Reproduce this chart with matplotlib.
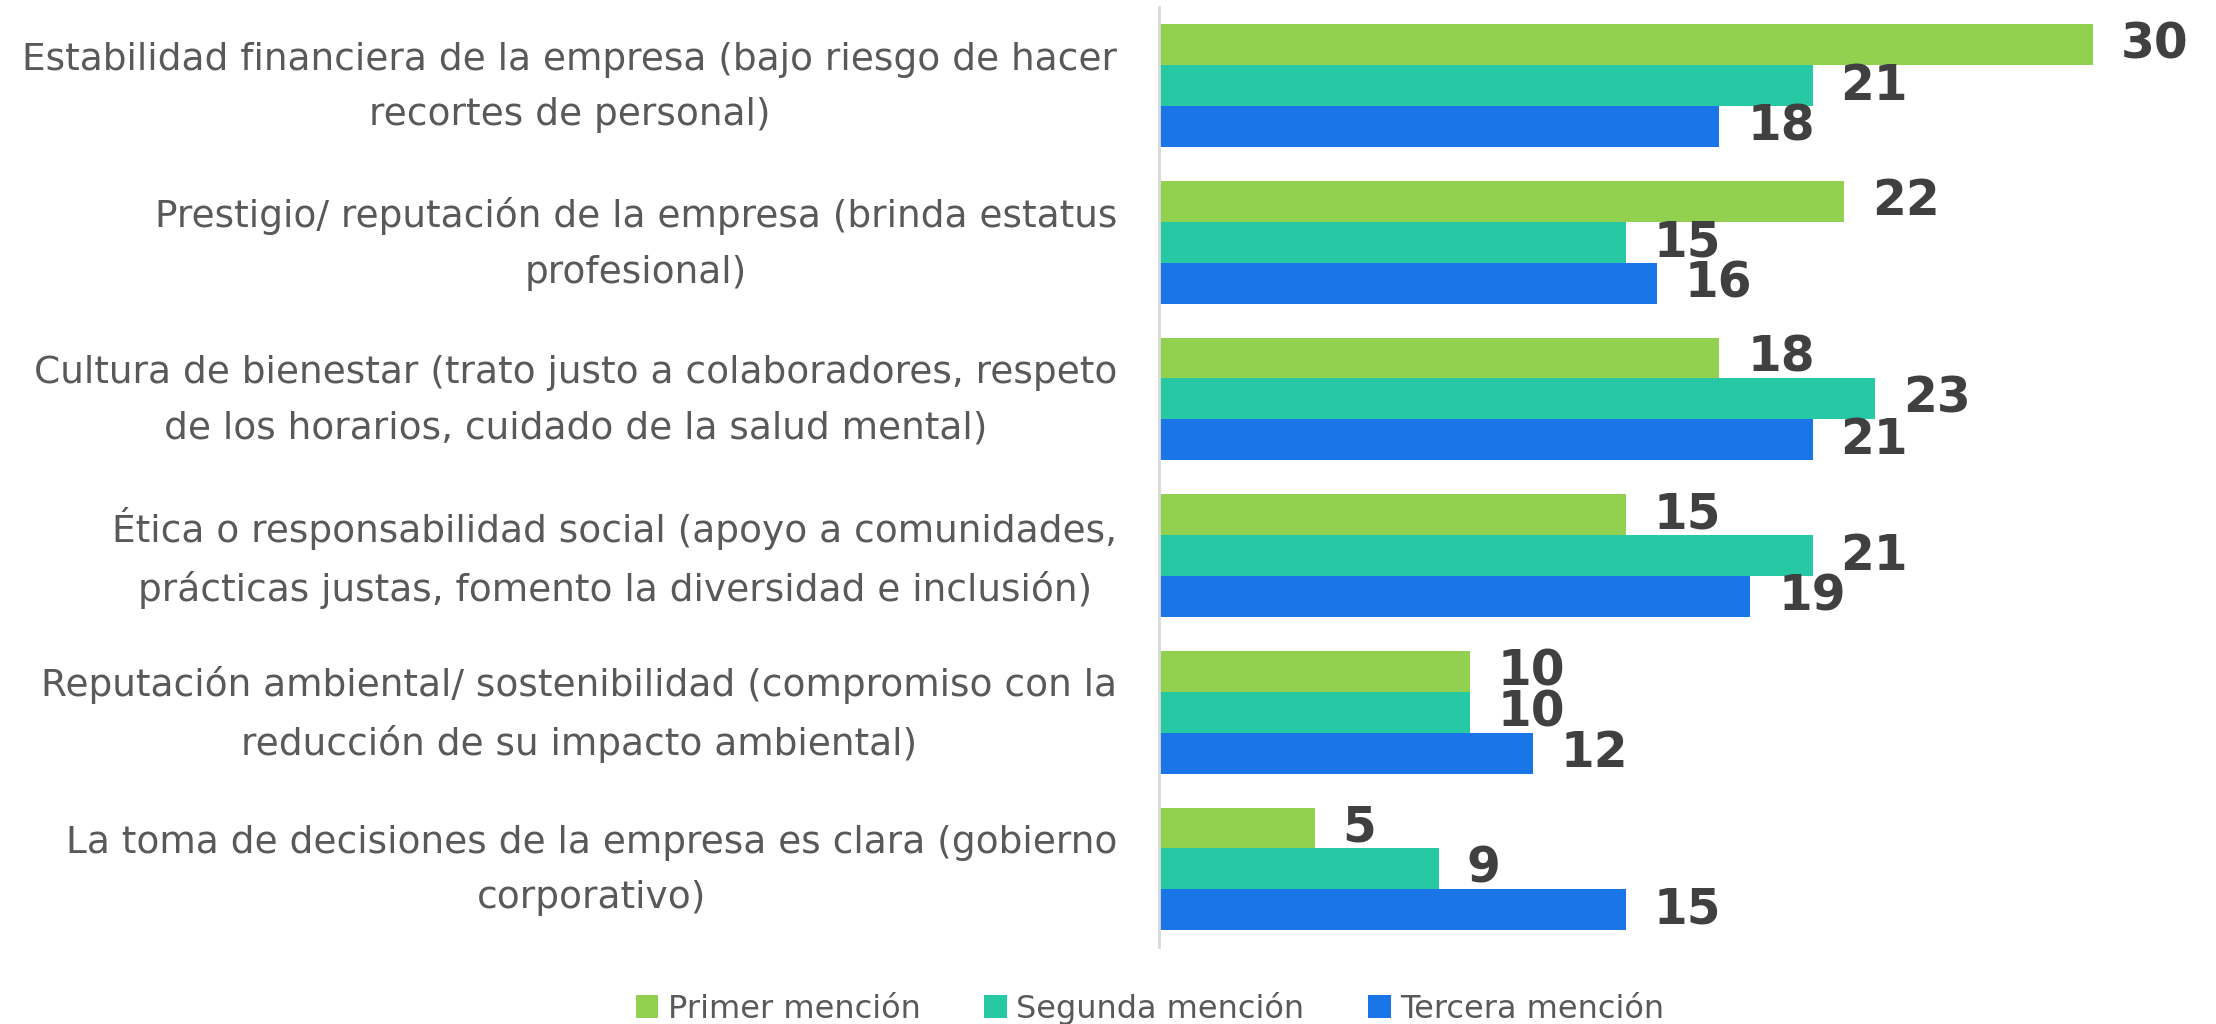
import matplotlib
matplotlib.use("Agg")
import matplotlib.pyplot as plt
import matplotlib.transforms as mtransforms
from matplotlib.patches import Patch

categories = [
    "Estabilidad financiera de la empresa (bajo riesgo de hacer\nrecortes de personal)",
    "Prestigio/ reputación de la empresa (brinda estatus\nprofesional)",
    "Cultura de bienestar (trato justo a colaboradores, respeto\nde los horarios, cuidado de la salud mental)",
    "Ética o responsabilidad social (apoyo a comunidades,\nprácticas justas, fomento la diversidad e inclusión)",
    "Reputación ambiental/ sostenibilidad (compromiso con la\nreducción de su impacto ambiental)",
    "La toma de decisiones de la empresa es clara (gobierno\ncorporativo)",
]
series_names = ["Primer mención", "Segunda mención", "Tercera mención"]
primer = [30, 22, 18, 15, 10, 5]
segunda = [21, 15, 23, 21, 10, 9]
tercera = [18, 16, 21, 19, 12, 15]
colors = ["#92D050", "#26C9A3", "#1A75E8"]

plt.rcParams['font.family'] = ['DejaVu Sans']

fig = plt.figure(figsize=(22.16, 10.24), dpi=100)
ax = fig.add_axes([0.523, 0.075, 0.4636, 0.918])

h = 0.261
ys = list(range(len(categories)))
for k, (vals, col) in enumerate(zip([primer, segunda, tercera], colors)):
    off = (k - 1) * h
    bars = ax.barh([y + off for y in ys], vals, height=h, color=col, edgecolor='none')
    ax.bar_label(bars, padding=20, fontsize=35, fontweight='bold', color='#404040')

ax.set_ylim(5.5, -0.5)
ax.set_xlim(0, 33)
ax.set_yticks(ys)
ax.set_yticklabels(categories, fontsize=27, color='#595959', multialignment='center', linespacing=1.7)
ax.tick_params(axis='y', length=0, pad=30)
shift = mtransforms.ScaledTranslation(0, 0.12, fig.dpi_scale_trans)
for lbl in ax.get_yticklabels():
    lbl.set_transform(lbl.get_transform() + shift)
ax.set_xticks([])
for s in ['top', 'right', 'bottom']:
    ax.spines[s].set_visible(False)
ax.spines['left'].set_color('#D9D9D9')
ax.spines['left'].set_linewidth(2)

handles = [Patch(facecolor=c, edgecolor='none') for c in colors]
fig.legend(handles, series_names, loc='center', bbox_to_anchor=(0.519, 0.0156), ncol=3,
           frameon=False, fontsize=23, labelcolor='#595959', handlelength=0.7, handleheight=0.7,
           handletextpad=0.3, columnspacing=2.0)

fig.savefig("out.png", dpi=100)
